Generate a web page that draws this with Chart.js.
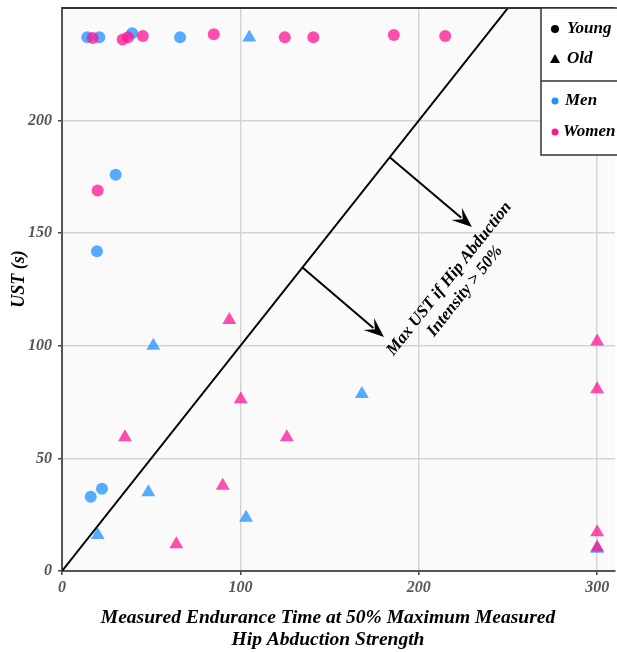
<!DOCTYPE html>
<html>
<head>
<meta charset="utf-8">
<script src="https://cdn.jsdelivr.net/npm/chart.js@4.4.0/dist/chart.umd.min.js"></script>
<style>
    html, body { margin: 0; padding: 0; background: #fff; overflow: hidden; }
    #caixa { width: 617px; height: 652px; position: relative; }
</style>
</head>
<body>
<div id="caixa"><canvas id="grafico"></canvas></div>
<script>
// =======================================
// DADOS
// =======================================
const youngMenX   = [14.2, 20.9, 39.3, 66.2, 30.1, 19.6, 16.1, 22.4];
const youngMenY   = [237, 237, 238.8, 237, 176, 142, 33, 36.5];

const youngWomenX = [17.2, 34, 37, 45.3, 85.1, 124.9, 140.9, 186, 214.8, 20];
const youngWomenY = [236.7, 236, 237, 237.6, 238.3, 237, 237, 238, 237.6, 169];

const oldMenX     = [105, 51.2, 48.4, 20, 103.2, 168.1, 300];
const oldMenY     = [236.9, 100, 35, 16, 23.7, 78.6, 9.9];

const oldWomenX   = [93.8, 100.2, 35.3, 126, 90.1, 64.1, 300, 300, 300, 300];
const oldWomenY   = [111.5, 76.3, 59.4, 59.4, 37.9, 11.9, 101.9, 80.7, 17.2, 10.4];

// linha de identidade (UST = tempo medido)
const linhaX = [0, 250];
const linhaY = [0, 250];

// setas da anotação: [x inicial, y inicial, x final, y final]
const seta1 = [183.7, 183.7, 229.8, 152.8];
const seta2 = [134.8, 134.8, 180.5, 103.9];
const textoAnotacao = ["Max UST if Hip Abduction", "Intensity > 50%"];
const posTexto = [221.5, 127];

const xTicks = [0, 100, 200, 300];
const yTicks = [0, 50, 100, 150, 200];

const legendaIdade = ["Young", "Old"];
const legendaSexo = ["Men", "Women"];

const tituloX = ["Measured Endurance Time at 50% Maximum Measured", "Hip Abduction Strength"];
const tituloY = "UST (s)";

const azul = "rgba(30, 144, 255, 0.75)";
const rosa = "rgba(255, 20, 147, 0.75)";
const fonte = '"Liberation Serif", "Times New Roman", serif';

function pontos(xs, ys) {
    return xs.map((x, i) => ({ x: x, y: ys[i] }));
}

// =======================================
// PLUGIN: fundo, setas, textos e legenda
// =======================================
function desenharSeta(ctx, x1, y1, x2, y2) {
    const ang = Math.atan2(y2 - y1, x2 - x1);
    const c = Math.cos(ang), s = Math.sin(ang);
    const len = 20, larg = 8;
    ctx.beginPath();
    ctx.moveTo(x1, y1);
    ctx.lineTo(x2 - c * len * 0.7, y2 - s * len * 0.7);
    ctx.stroke();
    ctx.beginPath();
    ctx.moveTo(x2, y2);
    ctx.lineTo(x2 - c * len + s * larg, y2 - s * len - c * larg);
    ctx.lineTo(x2 - c * len * 0.6, y2 - s * len * 0.6);
    ctx.lineTo(x2 - c * len - s * larg, y2 - s * len + c * larg);
    ctx.closePath();
    ctx.fill();
}

const pluginAnotacoes = {
    id: "anotacoes",
    beforeDraw(chart) {
        const { ctx, chartArea: a } = chart;
        ctx.save();
        ctx.fillStyle = "#fafafa";
        ctx.fillRect(a.left, a.top, a.right - a.left, a.bottom - a.top);
        ctx.restore();
    },
    afterDraw(chart) {
        const { ctx, chartArea: a } = chart;
        const sx = chart.scales.x, sy = chart.scales.y;
        ctx.save();

        // borda superior
        ctx.strokeStyle = "#333";
        ctx.lineWidth = 2;
        ctx.beginPath();
        ctx.moveTo(a.left, a.top);
        ctx.lineTo(a.right, a.top);
        ctx.stroke();

        // setas
        ctx.strokeStyle = "#000";
        ctx.fillStyle = "#000";
        ctx.lineWidth = 2;
        [seta1, seta2].forEach(function (s) {
            desenharSeta(ctx,
                sx.getPixelForValue(s[0]), sy.getPixelForValue(s[1]),
                sx.getPixelForValue(s[2]), sy.getPixelForValue(s[3]));
        });

        // texto rotacionado paralelo à linha
        const ang = Math.atan2(
            sy.getPixelForValue(100) - sy.getPixelForValue(0),
            sx.getPixelForValue(100) - sx.getPixelForValue(0));
        ctx.save();
        ctx.translate(sx.getPixelForValue(posTexto[0]), sy.getPixelForValue(posTexto[1]));
        ctx.rotate(ang);
        ctx.font = "italic bold 17px " + fonte;
        ctx.textAlign = "center";
        ctx.textBaseline = "middle";
        ctx.fillText(textoAnotacao[0], 0, -10);
        ctx.fillText(textoAnotacao[1], 0, 10);
        ctx.restore();

        // legenda
        const lx = 541, ly = a.top, lw = 90, lh = 147;
        ctx.fillStyle = "#fff";
        ctx.fillRect(lx, ly, lw, lh);
        ctx.strokeStyle = "#333";
        ctx.lineWidth = 1.5;
        ctx.strokeRect(lx, ly, lw, lh);
        ctx.beginPath();
        ctx.moveTo(lx, 81);
        ctx.lineTo(lx + lw, 81);
        ctx.stroke();

        ctx.font = "italic bold 17px " + fonte;
        ctx.textAlign = "left";
        ctx.textBaseline = "middle";
        const simbX = 555;
        // Young
        ctx.fillStyle = "#000";
        ctx.beginPath();
        ctx.arc(simbX, 29, 4, 0, Math.PI * 2);
        ctx.fill();
        ctx.fillText(legendaIdade[0], 567, 29);
        // Old
        ctx.beginPath();
        ctx.moveTo(simbX, 54);
        ctx.lineTo(simbX + 5, 63);
        ctx.lineTo(simbX - 5, 63);
        ctx.closePath();
        ctx.fill();
        ctx.fillText(legendaIdade[1], 567, 59);
        // Men
        ctx.fillStyle = "#1e90ff";
        ctx.beginPath();
        ctx.arc(simbX, 101, 3.5, 0, Math.PI * 2);
        ctx.fill();
        ctx.fillStyle = "#000";
        ctx.fillText(legendaSexo[0], 565, 101);
        // Women
        ctx.fillStyle = "#ff1493";
        ctx.beginPath();
        ctx.arc(simbX, 132, 3.5, 0, Math.PI * 2);
        ctx.fill();
        ctx.fillStyle = "#000";
        ctx.fillText(legendaSexo[1], 563, 132);

        // títulos dos eixos
        ctx.font = "italic bold 19.5px " + fonte;
        ctx.textAlign = "center";
        ctx.fillText(tituloX[0], 328, 618);
        ctx.fillText(tituloX[1], 328, 640);

        ctx.font = "italic bold 18px " + fonte;
        ctx.save();
        ctx.translate(19, 279);
        ctx.rotate(-Math.PI / 2);
        ctx.fillText(tituloY, 0, 0);
        ctx.restore();

        ctx.restore();
    }
};

// =======================================
// GRÁFICO
// =======================================
new Chart(document.getElementById("grafico"), {
    type: "scatter",
    data: {
        datasets: [
            {
                label: "Young Women",
                data: pontos(youngWomenX, youngWomenY),
                backgroundColor: rosa, borderWidth: 0,
                pointStyle: "circle", pointRadius: 6, order: 2
            },
            {
                label: "Old Women",
                data: pontos(oldWomenX, oldWomenY),
                backgroundColor: rosa, borderWidth: 0,
                pointStyle: "triangle", pointRadius: 8, order: 2
            },
            {
                label: "Young Men",
                data: pontos(youngMenX, youngMenY),
                backgroundColor: azul, borderWidth: 0,
                pointStyle: "circle", pointRadius: 6, order: 3
            },
            {
                label: "Old Men",
                data: pontos(oldMenX, oldMenY),
                backgroundColor: azul, borderWidth: 0,
                pointStyle: "triangle", pointRadius: 8, order: 3
            },
            {
                type: "line",
                label: "Identidade",
                data: pontos(linhaX, linhaY),
                borderColor: "#000", borderWidth: 2,
                pointRadius: 0, fill: false, order: 1
            }
        ]
    },
    options: {
        responsive: true,
        maintainAspectRatio: false,
        animation: false,
        layout: { autoPadding: false, padding: { top: 8, right: 2, left: 0, bottom: 0 } },
        plugins: {
            legend: { display: false },
            tooltip: { enabled: false }
        },
        scales: {
            x: {
                type: "linear",
                min: 0, max: 310,
                afterBuildTicks: function (s) { s.ticks = xTicks.map(v => ({ value: v })); },
                afterFit: function (s) {
                    s.height = 81;
                    s.paddingLeft = 0; s.paddingRight = 0;
                },
                ticks: {
                    color: "#555",
                    font: { family: fonte, size: 16, style: "italic", weight: "bold" },
                    padding: 3
                },
                grid: { color: "#d4d4d4", lineWidth: 1.5, tickColor: "#444", tickLength: 4 },
                border: { color: "#555", width: 2 }
            },
            y: {
                type: "linear",
                min: 0, max: 250,
                afterBuildTicks: function (s) { s.ticks = yTicks.map(v => ({ value: v })); },
                afterFit: function (s) {
                    s.width = 62;
                    s.paddingTop = 0; s.paddingBottom = 0;
                },
                ticks: {
                    color: "#555",
                    font: { family: fonte, size: 16, style: "italic", weight: "bold" },
                    padding: 6
                },
                grid: { color: "#d4d4d4", lineWidth: 1.5, tickColor: "#444", tickLength: 4 },
                border: { color: "#555", width: 2 }
            }
        }
    },
    plugins: [pluginAnotacoes]
});
</script>
</body>
</html>
